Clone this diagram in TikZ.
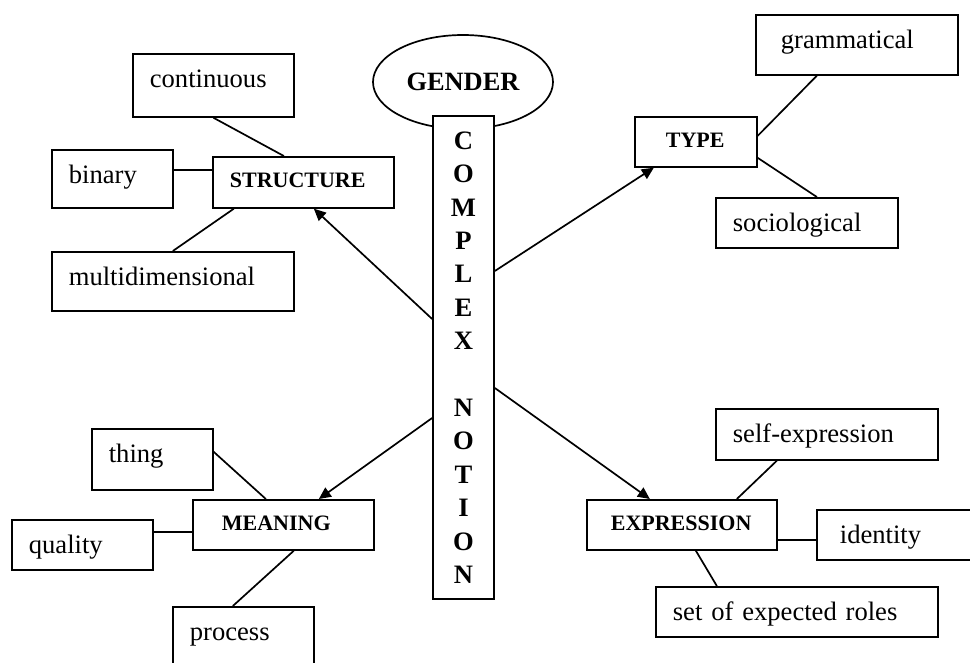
\documentclass[tikz,border=0pt]{standalone}
\usepackage{fontspec}
\setmainfont{Liberation Serif}
\usetikzlibrary{arrows.meta,shapes.geometric,calc,positioning}

\begin{document}
\begin{tikzpicture}[
    x=0.5pt, y=-0.5pt,
    >={Triangle[length=6pt,width=5.5pt]},
    line width=0.85pt,
    leaf/.style 2 args={draw, rectangle, anchor=north west, align=left, inner xsep=8.5pt, inner ysep=0pt, text height=17pt, text width=#1, text depth=#2, font=\fontsize{13.3}{16}\selectfont},
    head/.style 2 args={draw, rectangle, anchor=north west, align=left, inner ysep=0pt, text height=15.25pt, text width=#1, text depth=#2, font=\fontsize{11}{13}\selectfont\bfseries},
    tall/.style={draw, rectangle, fill=white, minimum width=30.5pt, minimum height=241.5pt, inner sep=0pt, align=center, font=\fontsize{13.3}{16.7}\selectfont\bfseries},
    oval/.style={draw, ellipse, minimum width=90pt, minimum height=47pt, inner sep=0pt, font=\fontsize{13.2}{16}\selectfont\bfseries}
]

    \useasboundingbox (0,0) rectangle (970,663);

    \node[oval] (gender) at (463,82) {GENDER};
    \node[tall] (cplx) at (463.5,357.5) {C\\O\\M\\P\\L\\E\\X\\[16.7pt]N\\O\\T\\I\\O\\N};

    \node[head={73.5pt}{10.25pt}, inner xsep=8.5pt] (struc) at (212,156) {STRUCTURE};
    \node[head={30pt}{9.75pt}, inner xsep=15.5pt] (typ) at (634,116) {TYPE};
    \node[head={61.5pt}{9.75pt}, inner xsep=14.5pt] (mean) at (192,499) {MEANING};
    \node[head={71pt}{9.75pt}, inner xsep=12pt] (expr) at (586,499) {EXPRESSION};

    \node[leaf={63.5pt}{14.5pt}] (cont) at (132,53) {continuous};
    \node[leaf={43.5pt}{12pt}] (bin) at (51,149) {binary};
    \node[leaf={104pt}{12.5pt}] (multi) at (51,251) {multidimensional};

    \node[leaf={76pt}{13pt}, inner xsep=12.5pt] (gram) at (755,14) {grammatical};
    \node[leaf={74pt}{8pt}] (socio) at (715,197) {sociological};

    \node[leaf={43.5pt}{13.5pt}] (thing) at (91,428) {thing};
    \node[leaf={53.5pt}{8pt}] (qual) at (11,519) {quality};
    \node[leaf={53.5pt}{13pt}] (proc) at (172,606) {process};

    \node[leaf={94pt}{8.5pt}] (self) at (715,408) {self-expression};
    \node[leaf={59pt}{8pt}, inner xsep=11.5pt] (ident) at (816,509) {identity};
    \node[leaf={124pt}{8pt}] (roles) at (655,586) {set of expected roles};


    \draw[->] ([yshift=19.25pt]cplx.west) -- ([xshift=5.25pt]struc.south);
    \draw[->] ([yshift=43.25pt]cplx.east) -- ([xshift=-21pt]typ.south);
    \draw[->] ([yshift=-30.25pt]cplx.west) -- ([xshift=17.75pt]mean.north);
    \draw[->] ([yshift=-15.25pt]cplx.east) -- ([xshift=-16pt]expr.north);

    \draw (cont.south) -- ([xshift=-9.75pt]struc.north);
    \draw ([yshift=4.5pt]bin.east) coordinate (bin_r) -- (bin_r -| struc.west);
    \draw ([xshift=-34.75pt]struc.south) -- (multi.north);

    \draw ([yshift=3pt]typ.east) -- ([xshift=-20pt]gram.south);
    \draw ([yshift=-8pt]typ.east) -- ([xshift=5pt]socio.north);

    \draw ([yshift=3.75pt]thing.east) -- ([xshift=-8.75pt]mean.north);
    \draw ([yshift=6.5pt]qual.east) coordinate (qual_r) -- (qual_r -| mean.west);
    \draw ([xshift=5.25pt]mean.south) -- ([xshift=-5.25pt]proc.north);

    \draw ([xshift=27.5pt]expr.north) -- ([xshift=-25pt]self.south);
    \draw ([yshift=-7.5pt]expr.east) coordinate (expr_r) -- (expr_r -| ident.west);
    \draw ([xshift=7pt]expr.south) -- ([xshift=-40pt]roles.north);

\end{tikzpicture}
\end{document}
